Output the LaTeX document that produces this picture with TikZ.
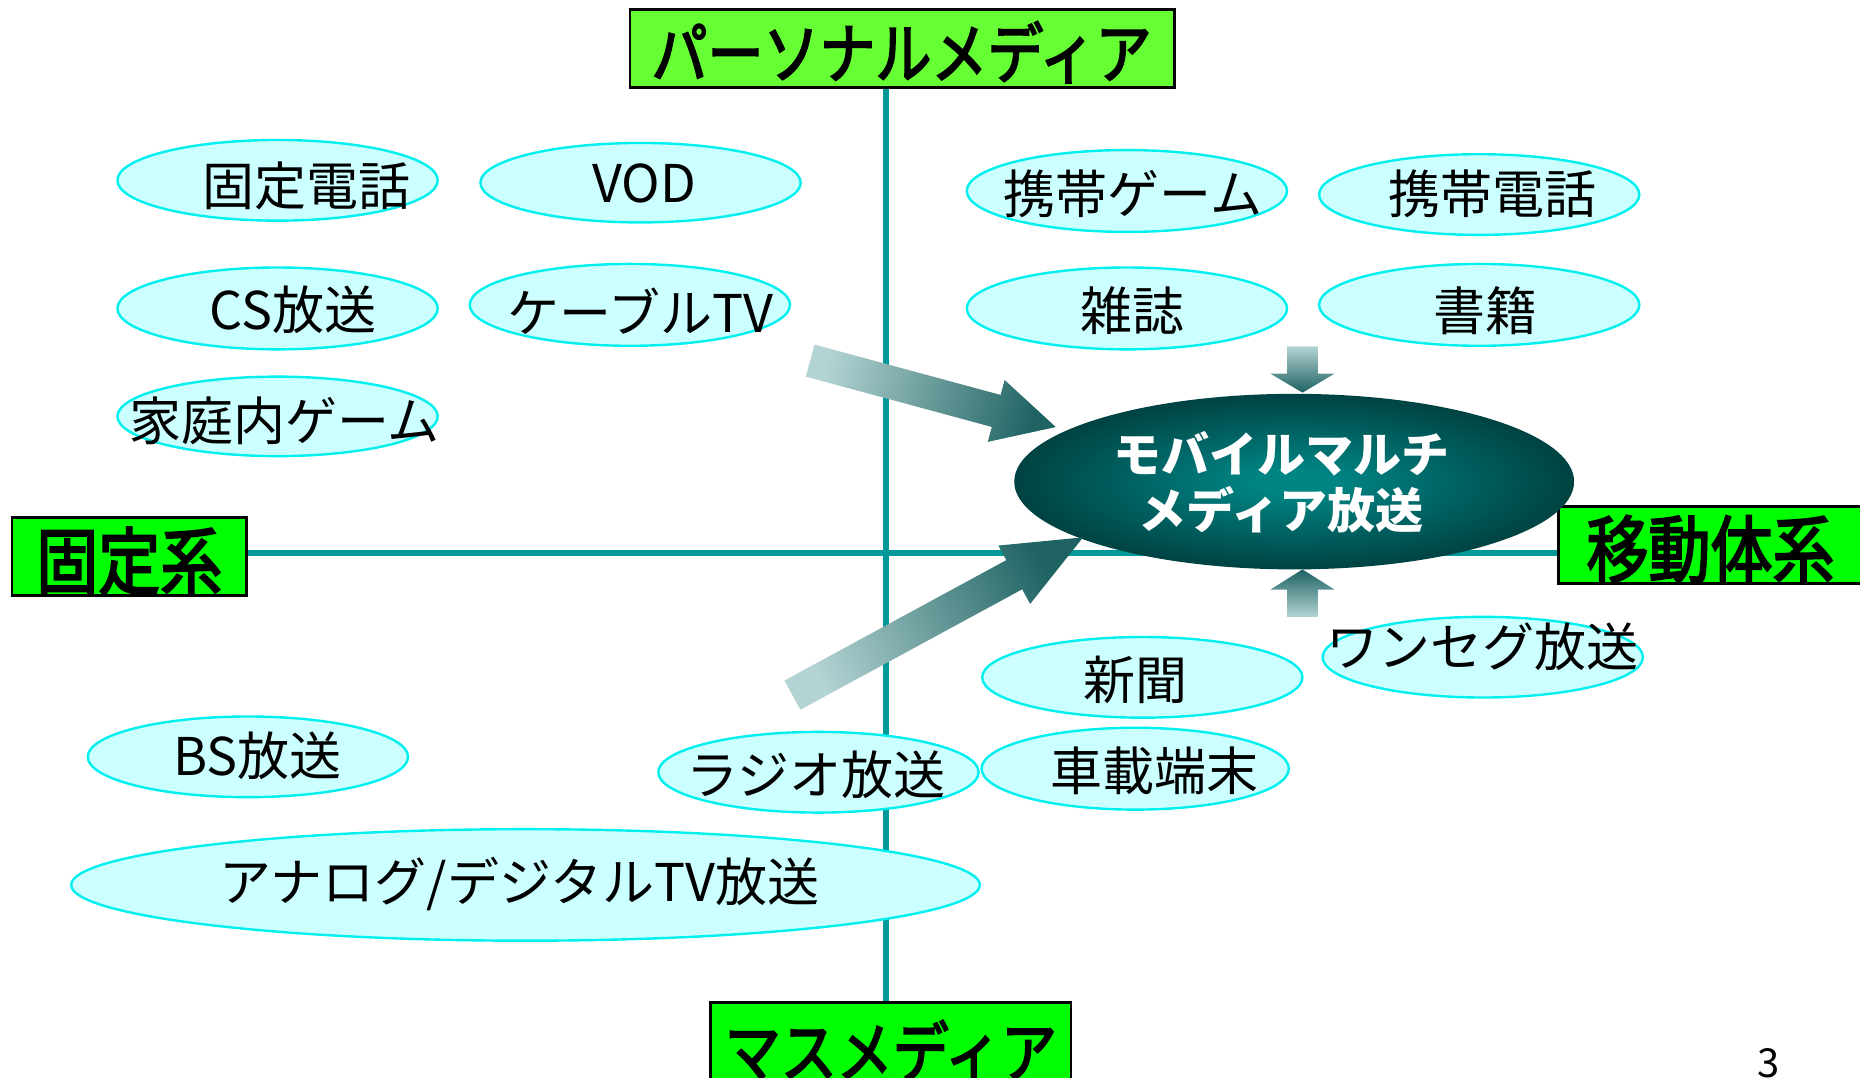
\documentclass[tikz,border=0pt]{standalone}
\usepackage{fontspec}
\setmainfont{Noto Sans CJK JP}
\newfontfamily\boxfont{Noto Sans CJK JP}[FakeBold=3]
\usetikzlibrary{shapes.geometric}
\definecolor{ovalfill}{HTML}{CCFFFF}
\definecolor{ovaledge}{HTML}{00F0F0}
\definecolor{axiscol}{HTML}{009999}
\definecolor{topgreen}{HTML}{66FF33}
\definecolor{boxgreen}{HTML}{00FF00}
\definecolor{arlight}{HTML}{B4D3D3}
\definecolor{ardark}{HTML}{1E6262}
\definecolor{mmin}{HTML}{008585}
\definecolor{mmout}{HTML}{003333}
\pgfdeclareradialshading{mmshade}{\pgfpoint{0bp}{0bp}}{color(0bp)=(mmin); color(3bp)=(mmin); color(30bp)=(mmout); color(50bp)=(mmout)}
\def\u{0.5931pt}
\begin{document}
\begin{tikzpicture}[x={(0.5931pt,0)}, y={(0,-0.5931pt)},
  oval/.style={ellipse, draw=ovaledge, fill=ovalfill, line width=1.2pt, inner sep=0pt},
  lbl/.style={font=\fontsize{26}{30}\selectfont, inner sep=0pt, text=black},
  axisbox/.style={draw=black, line width=1.3pt, inner sep=0pt},
  boxlbl/.style={inner sep=0pt, yscale=1.18, transform shape},
  axisline/.style={draw=axiscol, line width=3pt},
  blockarrow/.style={top color=ardark, bottom color=arlight}
]
\useasboundingbox (0,0) rectangle (1568,908);

% axis boxes
\node[axisbox, fill=topgreen, minimum width=459*\u, minimum height=66*\u] (topbox) at (760.5,41) {};
\node[boxlbl, font=\boxfont\fontsize{28}{32}\selectfont] at (760,44) {パーソナルメディア};
\node[axisbox, fill=boxgreen, minimum width=198*\u, minimum height=66*\u] (fixbox) at (109,469) {};
\node[boxlbl, font=\boxfont\fontsize{31}{34}\selectfont] at (109,473) {固定系};
\node[axisbox, fill=boxgreen, minimum width=256*\u, minimum height=65*\u] (mobbox) at (1442,459.5) {};
\node[boxlbl, font=\boxfont\fontsize{31}{34}\selectfont] at (1442,463) {移動体系};
\node[axisbox, fill=boxgreen, minimum width=304*\u, minimum height=76*\u] (massbox) at (751,883) {};
\node[boxlbl, font=\boxfont\fontsize{28}{32}\selectfont] at (751,886) {マスメディア};

% axes
\coordinate (vx) at (747,466);
\draw[axisline] (vx |- topbox.south) -- (vx |- massbox.north);
\draw[axisline] (fixbox.east |- vx) -- (mobbox.west |- vx);

% ovals
\node[oval, minimum width=270*\u, minimum height=68*\u] (kotei) at (234,152) {};
\node[lbl] at (258,157) {固定電話};
\node[oval, minimum width=270*\u, minimum height=67*\u] (vod) at (540,154) {};
\node[lbl] at (543,155) {VOD};
\node[oval, minimum width=270*\u, minimum height=69*\u] (cs) at (234,260) {};
\node[lbl] at (247,261) {CS放送};
\node[oval, minimum width=270*\u, minimum height=69*\u] (cable) at (531,257) {};
\node[lbl] at (540,262) {ケーブルTV};
\node[oval, minimum width=270*\u, minimum height=67*\u] (katei) at (234,351) {};
\node[lbl] at (240,355) {家庭内ゲーム};
\node[oval, minimum width=270*\u, minimum height=69*\u] (kgame) at (950,161) {};
\node[lbl] at (955,163) {携帯ゲーム};
\node[oval, minimum width=270*\u, minimum height=68*\u] (kphone) at (1247,164) {};
\node[lbl] at (1258,163) {携帯電話};
\node[oval, minimum width=270*\u, minimum height=69*\u] (zasshi) at (950,260) {};
\node[lbl] at (955,262) {雑誌};
\node[oval, minimum width=270*\u, minimum height=69*\u] (shoseki) at (1247,257) {};
\node[lbl] at (1252,262) {書籍};
\node[oval, minimum width=270*\u, minimum height=68*\u] (shinbun) at (963,571) {};
\node[lbl] at (957,573) {新聞};
\node[oval, minimum width=270*\u, minimum height=68*\u] (oneseg) at (1250,554) {};
\node[lbl] at (1250,545) {ワンセグ放送};
\node[oval, minimum width=270*\u, minimum height=68*\u] (bs) at (209,638) {};
\node[lbl] at (217,637) {BS放送};
\node[oval, minimum width=270*\u, minimum height=68*\u] (radio) at (690,651) {};
\node[lbl] at (688,653) {ラジオ放送};
\node[oval, minimum width=259*\u, minimum height=69*\u] (car) at (957,648) {};
\node[lbl] at (973,650) {車載端末};
\node[oval, minimum width=766*\u, minimum height=94*\u] (tv) at (443,746) {};
\node[lbl] at (438,745) {アナログ/デジタルTV放送};

% central oval
\node[ellipse, shade, shading=mmshade, minimum width=472*\u, minimum height=148*\u, inner sep=0pt] (mm) at (1091,406) {};
\node[font=\bfseries\fontsize{24}{28}\selectfont, text=white, align=center] at (1080,407) {モバイルマルチ\\メディア放送};

% block arrows
\shade[blockarrow, shading angle=-105.1]
  (686.7,290.5) -- (843.5,332.9) -- (846.9,320.3) -- (890,360) -- (832.7,372.5) -- (836.1,359.9) -- (679.3,317.5) -- cycle;
\shade[blockarrow, shading angle=-61.5]
  (674.7,598.3) -- (861.7,496.8) -- (868.4,509.1) -- (913,453) -- (841.6,459.9) -- (848.3,472.2) -- (661.3,573.7) -- cycle;
\shade[top color=arlight, bottom color=ardark]
  (1085,292) -- (1111,292) -- (1111,315) -- (1125,315) -- (1098,331) -- (1071,315) -- (1085,315) -- cycle;
\shade[top color=ardark, bottom color=arlight]
  (1085,520) -- (1111,520) -- (1111,497) -- (1125,497) -- (1098,480) -- (1071,497) -- (1085,497) -- cycle;

% page number
\node[font=\fontsize{20}{22}\selectfont] (pg) at (1491,896) {3};
\end{tikzpicture}
\end{document}
